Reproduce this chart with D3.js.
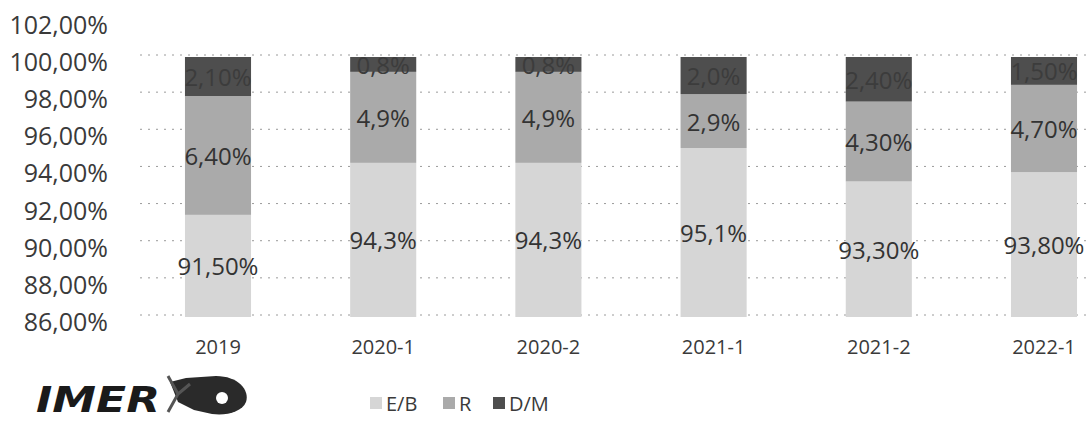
<!DOCTYPE html>
<html>
<head>
<meta charset="utf-8">
<script src="https://cdn.jsdelivr.net/npm/d3@7/dist/d3.min.js"></script>
<style>
  body { margin: 0; background: #fff; }
  svg { display: block; }
  text { font-family: "Open Sans", "Noto Sans", sans-serif; fill: #3a3a3a; }
</style>
</head>
<body>
<svg id="chart" width="1089" height="422"></svg>
<script>
// --- data ---
var categories = ["2019", "2020-1", "2020-2", "2021-1", "2021-2", "2022-1"];
var seriesNames = ["E/B", "R", "D/M"];
var eb = [91.5, 94.3, 94.3, 95.1, 93.3, 93.8];
var r  = [6.4, 4.9, 4.9, 2.9, 4.3, 4.7];
var dm = [2.1, 0.8, 0.8, 2.0, 2.4, 1.5];
var labelDecimals = [2, 1, 1, 1, 2, 2];   // the source labels mix "91,50%" and "94,3%"
var yTicks = [86, 88, 90, 92, 94, 96, 98, 100, 102];

var colors = { "E/B": "#d6d6d6", "R": "#aaaaaa", "D/M": "#4e4e4e" };

var svg = d3.select("#chart");

// scales
var x = d3.scaleBand()
    .domain(categories)
    .range([135.4, 1126.6])
    .paddingInner(0.6)
    .paddingOuter(0.3);

var y = d3.scaleLinear()
    .domain([86, 100])
    .range([317, 57]);

// rows for the stack
var rows = categories.map(function(c, i) {
  return { cat: c, i: i, "E/B": eb[i], "R": r[i], "D/M": dm[i] };
});
var stacked = d3.stack().keys(seriesNames)(rows);

// gridlines (dotted, like the print) - the 102 one is not printed
svg.append("g")
  .selectAll("line")
  .data(yTicks.filter(function(t) { return t <= 100; }))
  .enter().append("line")
    .attr("x1", 140)
    .attr("x2", 1089)
    .attr("y1", function(d) { return y(d) - 2; })
    .attr("y2", function(d) { return y(d) - 2; })
    .attr("stroke", "#9a9a9a")
    .attr("stroke-width", 1)
    .attr("stroke-dasharray", "2,6");

// y labels
svg.append("g")
  .selectAll("text")
  .data(yTicks)
  .enter().append("text")
    .attr("x", 108)
    .attr("y", function(d) { return y(d) + 4; })
    .attr("text-anchor", "end")
    .attr("dominant-baseline", "central")
    .style("font-size", "25px")
    .text(function(d) { return d3.format(".2f")(d).replace(".", ",") + "%"; });

// bars
var layer = svg.append("g")
  .selectAll("g")
  .data(stacked)
  .enter().append("g")
    .attr("fill", function(d) { return colors[d.key]; });

layer.selectAll("rect")
  .data(function(d) { return d; })
  .enter().append("rect")
    .attr("x", function(d) { return x(d.data.cat); })
    .attr("width", x.bandwidth())
    .attr("y", function(d) { return y(Math.min(d[1], 100)); })
    .attr("height", function(d) { return y(Math.max(d[0], 86)) - y(Math.min(d[1], 100)); });

// data labels, centred in each segment
var fmtLabel = function(v, i) {
  return d3.format("." + labelDecimals[i] + "f")(v).replace(".", ",") + "%";
};
layer.each(function(s) {
  d3.select(this).selectAll("text")
    .data(s)
    .enter().append("text")
      .attr("x", function(d) { return x(d.data.cat) + x.bandwidth() / 2; })
      .attr("y", function(d) {
        var top = Math.min(d[1], 100), bot = Math.max(d[0], 86);
        return (y(top) + y(bot)) / 2;
      })
      .attr("text-anchor", "middle")
      .attr("dominant-baseline", "central")
      .style("font-size", "24px")
      .style("fill", s.key == "D/M" ? "#3c3c3c" : "#333")
      .text(function(d) { return fmtLabel(d.data[s.key], d.data.i); });
});

// category labels
svg.append("g")
  .selectAll("text")
  .data(categories)
  .enter().append("text")
    .attr("x", function(d) { return x(d) + x.bandwidth() / 2; })
    .attr("y", 346)
    .attr("text-anchor", "middle")
    .attr("dominant-baseline", "central")
    .style("font-size", "20px")
    .text(function(d) { return d; });

// legend
var legendX = [370, 443, 493];
var legend = svg.append("g")
  .selectAll("g")
  .data(seriesNames)
  .enter().append("g")
    .attr("transform", function(d, i) { return "translate(" + legendX[i] + ",403)"; });
legend.append("rect")
  .attr("x", 0).attr("y", -6)
  .attr("width", 12).attr("height", 12)
  .attr("fill", function(d) { return colors[d]; });
legend.append("text")
  .attr("x", 16)
  .attr("y", 0)
  .attr("dominant-baseline", "central")
  .style("font-size", "20px")
  .text(function(d) { return d; });

// IMER logo (rough)
var logo = svg.append("g").attr("transform", "translate(36,412)");
logo.append("text")
  .attr("x", 0).attr("y", 0)
  .attr("textLength", 124)
  .attr("lengthAdjust", "spacingAndGlyphs")
  .style("font-family", "'DejaVu Sans', sans-serif")
  .style("font-weight", "bold")
  .style("font-style", "italic")
  .style("font-size", "36px")
  .style("fill", "#1a1a1a")
  .text("IMER");
logo.append("path")
  .attr("d", "M134,-30 L150,-34 L180,-36 C202,-36 214,-22 210,-10 C206,0 190,4 176,2 L158,-2 L142,-10 Z")
  .attr("fill", "#2a2a2a");
logo.append("circle")
  .attr("cx", 186).attr("cy", -14).attr("r", 6)
  .attr("fill", "#fff");
logo.append("path")
  .attr("d", "M132,-36 L142,-18 L132,0 M142,-18 L154,-28")
  .attr("stroke", "#555").attr("stroke-width", 3).attr("fill", "none");
</script>
</body>
</html>
